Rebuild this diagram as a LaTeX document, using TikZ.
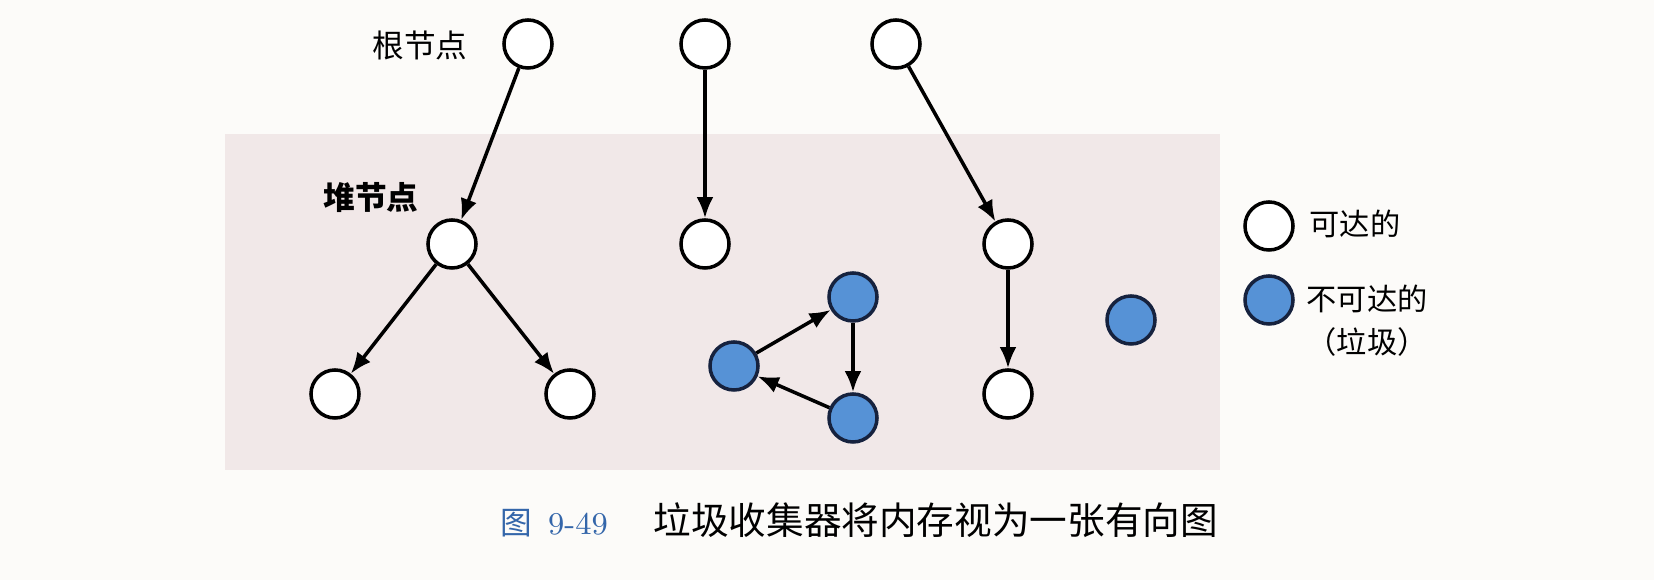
\documentclass[tikz,border=0pt]{standalone}
\usepackage{fontspec}
\newfontfamily\cjk{Noto Sans CJK SC}
\usetikzlibrary{arrows.meta}

\begin{document}
\begin{tikzpicture}[x=0.01cm,y=-0.01cm,>={Latex[length=6pt,width=4.8pt]}]
    \definecolor{mypage}{RGB}{252,251,249}
    \definecolor{myheap}{RGB}{241,232,232}
    \definecolor{myblue}{RGB}{86,146,214}
    \definecolor{myrim}{RGB}{22,34,62}
    \definecolor{mycap}{RGB}{52,102,170}

    \cjk  % 中文字体
    \tikzstyle{reach}=[circle,draw,line width=1pt,fill=white,minimum size=4.8mm,inner sep=0pt]  % 可达的节点
    \tikzstyle{garbage}=[reach,draw=myrim,fill=myblue]  % 不可达的节点(垃圾)
    \tikzstyle{link}=[->,line width=1pt]  % 指针
    \tikzstyle{tag}=[inner sep=0pt,font=\fontsize{9pt}{11pt}\selectfont]  % 文字

    % 背景: 页面和堆
    \fill[mypage] (0,0) rectangle (1654,580);
    \fill[myheap] (225,134) rectangle (1220,470);
    \useasboundingbox (0,0) rectangle (1654,580);

    % 根节点
    \node[reach](r1) at (528,44) {};
    \node[reach](r2) at (705,44) {};
    \node[reach](r3) at (896,44) {};
    \node[tag](rootlbl) at (420,45) {根节点};
    % 堆节点
    \node[reach](h1) at (452,244) {};
    \node[reach](h2) at (705,244) {};
    \node[reach](h3) at (1008,244) {};
    \node[reach](l1) at (335,394) {};
    \node[reach](l2) at (570,394) {};
    \node[reach](l3) at (1008,394) {};
    \node[garbage](g1) at (853,297) {};
    \node[garbage](g2) at (734,366) {};
    \node[garbage](g3) at (853,418) {};
    \node[garbage](g4) at (1131,320) {};
    \node[tag,font=\fontsize{9pt}{11pt}\selectfont\bfseries](heaplbl) at (371,198) {堆节点};
    % 图例
    \node[reach](k1) at (1269,226) {};
    \node[garbage](k2) at (1269,300) {};
    \node[tag,anchor=west,font=\fontsize{8.6pt}{12.2pt}\selectfont](t1) at (1309,224) {可达的};
    \node[tag,anchor=west,align=left,font=\fontsize{8.6pt}{12.2pt}\selectfont](t2) at (1306,321) {不可达的\\（垃圾）};
    % 图题
    \node[anchor=west,inner sep=0pt](cap) at (500,520)
        {{\color{mycap}\fontsize{9pt}{11pt}\selectfont 图\hspace{4.5pt}\rmfamily 9-49}\hspace{13pt}{\fontsize{10.7pt}{13pt}\selectfont 垃圾收集器将内存视为一张有向图}};

    % 开始画线
    \draw[link](r1)--(h1);
    \draw[link](r2)--(h2);
    \draw[link](r3)--(h3);
    \draw[link](h1)--(l1);
    \draw[link](h1)--(l2);
    \draw[link](h3)--(l3);
    \draw[link](g1)--(g3);
    \draw[link](g3)--(g2);
    \draw[link](g2)--(g1);
\end{tikzpicture}
\end{document}
